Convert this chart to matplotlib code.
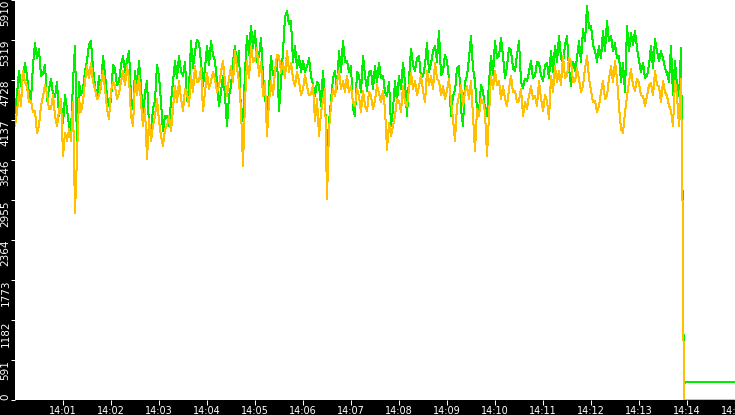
import matplotlib
matplotlib.use('Agg')
import matplotlib.pyplot as plt
import numpy as np

# readings every 5 s from 14:00:00 up to the drop at 14:13:55
main_seconds = np.arange(0, 836, 5)
# in-between readings (other end of the per-pixel spread), at +2.5 s
alt_seconds = np.arange(2.5, 835, 5)

green_vals = [
    4240, 4860, 4740, 4790, 4450, 5270, 5180, 4830, 4420, 4740, 4480, 4200, 4090, 4300, 3970, 5230,
    4700, 4600, 5010, 5300, 4640, 4790, 5080, 4490, 4420, 4890, 4710, 5080, 5010, 4480, 4860, 5010,
    4120, 4710, 3970, 4420, 4790, 3970, 4200, 4420, 5010, 5080, 4790, 4420, 5300, 5160, 5270, 4640,
    5230, 5300, 5010, 4340, 4790, 4050, 4640, 5230, 5160, 4120, 5380, 5530, 5450, 5080,
    4790, 4120, 5080, 4790, 4270, 5160, 5750, 5600, 5230, 5080, 5010, 4930, 4790, 4490, 4640, 4860,
    3680, 4420, 4860, 5160, 5300, 5010, 4930, 4200, 4790, 5080, 4570, 4860, 4930, 4980,
    4790, 4490, 4050, 4710, 4790, 4980, 4200, 5190, 4860, 5080, 4790, 5270, 4980, 5230, 5450, 4860,
    5010, 4200, 4570, 4930, 4050, 4790, 5380, 4710, 4270, 4570, 4200, 5080, 5300, 5080,
    5080, 4930, 5160, 4860, 5300, 4610, 4710, 5010, 4790, 4980, 4710, 4980, 5160, 5230, 5380, 4980,
    5380, 4640, 4860, 5300, 5480, 5820, 5530, 5160, 5230, 5450, 5600, 5380, 5270, 5080,
    4980, 5530, 5420, 5450, 5010, 4980, 4790, 5230, 5330, 5010, 5050, 4830, 5230, 5010, 4490, 2400,
]
green_alt = [
    4520, 4640, 4980, 4520, 4950, 5050, 4780, 4950, 4600, 4520, 4700, 4380, 4500, 4050, 4700, 3750,
    4500, 4850, 5250, 4900, 4450, 4600, 4820, 4350, 4950, 4650, 4950, 4850, 5150, 4300, 4580, 4650,
    4550, 4050, 4300, 4950, 4400, 4200, 4050, 4700, 4750, 4850, 5000, 4600, 4900, 5320, 5000, 4900,
    4950, 5100, 4700, 4550, 4500, 4500, 5000, 4900, 4200, 4850, 5100, 5200, 5000, 5350,
    4500, 4600, 4800, 5050, 4700, 5650, 5550, 5000, 4900, 4850, 4850, 5050, 4650, 4700, 4350, 4400,
    4100, 4750, 4600, 4850, 5000, 4850, 4300, 4850, 4550, 4800, 4850, 4600, 4700, 4750,
    4550, 4700, 4300, 4400, 4600, 4700, 4750, 4950, 5050, 4750, 4950, 4850, 5150, 5000, 4800, 5100,
    4750, 4500, 4900, 4300, 4700, 5050, 4900, 4300, 4650, 4300, 4700, 4800, 5050, 5350,
    4750, 5200, 4900, 5100, 4700, 4750, 4850, 4750, 5000, 4800, 4950, 4750, 4850, 5000, 5050, 5250,
    4900, 5000, 5050, 5000, 5300, 5500, 5250, 5000, 5050, 5150, 5300, 5150, 5050, 4700,
    4550, 5150, 5250, 5200, 4850, 4750, 4950, 4900, 5150, 5150, 4900, 4700, 4500, 4650, 5200,
]

yellow_vals = [
    4050, 4570, 4860, 4640, 4420, 4270, 4050, 4490, 4530, 4300, 4200, 4270, 3600, 3830, 3830, 2760,
    4450, 4420, 4930, 4980, 4600, 4490, 4860, 4300, 4570, 4640, 4530, 4860, 4930, 4200, 4710, 4790,
    4050, 3560, 3830, 4200, 4120, 3750, 4050, 3970, 4640, 4710, 4270, 4530, 4790, 4930, 4710, 4270,
    4830, 4710, 4740, 4640, 5010, 4490, 4930, 5160, 4710, 3460, 5010, 5230, 5010, 4790,
    4490, 3900, 4710, 4860, 5080, 4980, 5160, 4980, 4640, 4710, 4600, 4640, 4530, 4120, 3900, 4420,
    2970, 4340, 4490, 4860, 4710, 4790, 4640, 4340, 4490, 4570, 4270, 4490, 4420, 4530,
    4570, 3700, 3900, 4200, 4420, 4640, 4340, 4830, 4710, 4640, 4570, 4860, 4790, 4980, 4710, 4640,
    4570, 4420, 3830, 4490, 4340, 4640, 4710, 3680, 4200, 4420, 3610, 4790, 4860, 4710,
    4640, 4340, 4790, 4570, 4420, 4200, 4300, 4640, 4490, 4710, 4270, 4420, 4790, 4930, 4860, 5080,
    4790, 5010, 4710, 4740, 4640, 5080, 4570, 4420, 4340, 4710, 4490, 4930, 5010, 4340,
    3950, 4490, 4890, 4570, 4680, 4490, 4490, 4680, 4860, 4640, 4710, 4490, 4270, 4710, 4050, 2350,
]
yellow_alt = [
    4250, 4350, 4700, 4400, 4250, 3950, 4350, 4650, 4300, 4500, 4050, 4450, 3950, 4000, 4400, 3600,
    4250, 4700, 4750, 4700, 4450, 4650, 4600, 4150, 4700, 4450, 4700, 4650, 4750, 4050, 4500, 4400,
    4300, 4150, 4050, 4450, 3900, 4000, 4200, 4300, 4400, 4450, 4600, 4350, 4550, 4700, 4900, 4550,
    4600, 4850, 4550, 4850, 4700, 4750, 4700, 4900, 4300, 4400, 4750, 5000, 5200, 5000,
    4700, 4400, 4500, 5100, 4850, 4750, 4850, 4750, 4850, 4500, 4800, 4500, 4650, 4450, 4250, 4600,
    4000, 4600, 4700, 4600, 4550, 4550, 4400, 4600, 4250, 4350, 4550, 4300, 4650, 4400,
    4300, 4100, 4050, 4450, 4250, 4400, 4600, 4600, 4500, 4800, 4400, 4650, 4600, 4750, 4500, 4450,
    4750, 4150, 4350, 4650, 4550, 4450, 4200, 4300, 4450, 4250, 4200, 4600, 4650, 4450,
    4450, 4600, 4550, 4400, 4600, 4400, 4500, 4450, 4350, 4450, 4500, 4150, 4550, 4700, 4650, 4750,
    5050, 4700, 4900, 4550, 4900, 4750, 4400, 4250, 4550, 4450, 4750, 4700, 4750, 4000,
    4250, 4700, 4650, 4750, 4500, 4350, 4650, 4500, 4650, 4400, 4550, 4350, 4050, 4500, 4750,
]

# after the drop
tail_seconds = [836, 837, 900]
green_tail = [130, 266, 266]
yellow_tail = [0, 0, 0]

tick_minutes = list(range(1, 16))
tick_labels = ['14:%02d' % m for m in tick_minutes]
y_ticks = [0, 591, 1182, 1773, 2364, 2955, 3546, 4137, 4728, 5319, 5910]


def merge(main, alt, tail):
    n = len(main) + len(alt)
    t = np.empty(n)
    v = np.empty(n)
    t[0::2], t[1::2] = main_seconds, alt_seconds
    v[0::2], v[1::2] = main, alt
    t = np.concatenate([t, tail_seconds]) / 60.0
    v = np.concatenate([v, tail])
    return t, v


green_t, green_y = merge(green_vals, green_alt, green_tail)
yellow_t, yellow_y = merge(yellow_vals, yellow_alt, yellow_tail)

fig = plt.figure(figsize=(7.35, 4.15), dpi=100, facecolor='black')
ax = fig.add_axes([15 / 735, 15 / 415, 720 / 735, 400 / 415])
ax.set_facecolor('white')

ax.plot(green_t, green_y, color='#00ee00', lw=0.72, antialiased=False)
ax.plot(yellow_t, yellow_y, color='#ffc000', lw=0.72, antialiased=False)

ax.set_xlim(0, 15)
ax.set_ylim(0, 5910)
ax.set_xticks(tick_minutes)
ax.set_xticklabels(tick_labels)
ax.set_yticks(y_ticks)
ax.set_yticklabels([str(v) for v in y_ticks])

for s in ax.spines.values():
    s.set_visible(False)

ax.tick_params(axis='x', colors='white', labelsize=7, length=3.6, width=0.75, pad=0.5)
ax.tick_params(axis='y', colors='white', labelsize=7.5, length=3, width=0.75, pad=0.3)

for lab in ax.get_yticklabels():
    lab.set_rotation(90)
    lab.set_va('top')
ax.get_yticklabels()[0].set_va('bottom')

fig.savefig('out.png', dpi=100, facecolor='black')
